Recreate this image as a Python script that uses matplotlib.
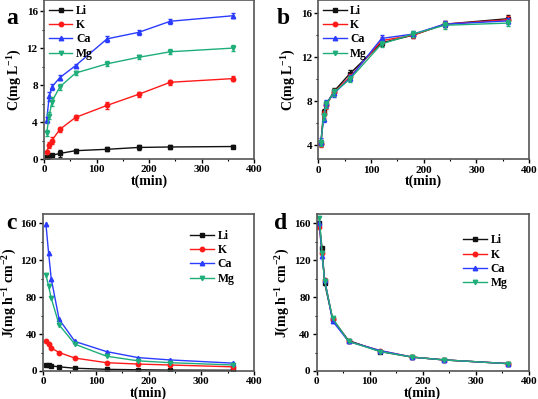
import matplotlib
matplotlib.use("Agg")
import matplotlib.pyplot as plt
from matplotlib.ticker import MultipleLocator

plt.rcParams['font.family'] = 'Liberation Serif'
plt.rcParams['font.weight'] = 'bold'
plt.rcParams['axes.labelweight'] = 'bold'
plt.rcParams['mathtext.fontset'] = 'custom'
plt.rcParams['mathtext.rm'] = 'Liberation Serif:bold'
plt.rcParams['mathtext.bf'] = 'Liberation Serif:bold'
plt.rcParams['mathtext.default'] = 'bf'

# sampling times (min)
t = [5, 10, 15, 30, 60, 120, 180, 240, 360]
ions = ['Li', 'K', 'Ca', 'Mg']
colors = {'Li': '#111111', 'K': '#ff1a1a', 'Ca': '#2a3cff', 'Mg': '#1fae7a'}
markers = {'Li': 's', 'K': 'o', 'Ca': '^', 'Mg': 'v'}

# (a) concentration, single-ion solutions
conc_a = {
    'Li': [0.2, 0.3, 0.4, 0.6, 0.9, 1.05, 1.25, 1.3, 1.35],
    'K':  [0.8, 1.5, 2.0, 3.2, 4.5, 5.8, 7.0, 8.3, 8.7],
    'Ca': [4.2, 6.8, 7.8, 8.8, 10.1, 13.0, 13.7, 14.9, 15.5],
    'Mg': [2.8, 4.7, 6.2, 7.8, 9.3, 10.3, 11.0, 11.6, 12.0],
}
err_a = {
    'Li': [0.05, 0.1, 0.1, 0.35, 0.2, 0.2, 0.3, 0.2, 0.2],
    'K':  [0.1, 0.3, 0.4, 0.25, 0.25, 0.35, 0.25, 0.25, 0.3],
    'Ca': [0.3, 0.5, 0.3, 0.25, 0.2, 0.3, 0.25, 0.25, 0.25],
    'Mg': [0.3, 0.4, 0.5, 0.3, 0.25, 0.25, 0.2, 0.25, 0.35],
}

# (b) concentration, normalised
conc_b = {
    'Li': [4.2, 7.0, 7.7, 8.9, 10.5, 13.3, 14.0, 15.0, 15.5],
    'K':  [4.1, 6.8, 7.6, 8.8, 10.2, 13.5, 14.0, 15.0, 15.4],
    'Ca': [4.3, 6.4, 7.8, 8.7, 10.1, 13.7, 14.1, 15.0, 15.3],
    'Mg': [4.2, 6.6, 7.7, 8.8, 10.0, 13.2, 14.1, 14.9, 15.1],
}
err_b = 0.3

# (c) flux, single-ion solutions
flux_c = {
    'Li': [7, 6, 5.5, 4.5, 3, 1.8, 1.3, 1.0, 0.8],
    'K':  [33, 29, 25, 20, 14, 9, 7.5, 6.5, 4.5],
    'Ca': [159, 128, 100, 56, 32, 21, 14.5, 12, 8.5],
    'Mg': [104, 92, 79, 50, 29, 16, 11, 9, 6.5],
}

# (d) flux, normalised
flux_d = {
    'Li': [160, 133, 95, 56, 33, 21, 15, 12, 8],
    'K':  [156, 128, 98, 56, 32, 22, 15, 12, 8],
    'Ca': [160, 124, 99, 54, 32, 22, 15, 12, 8],
    'Mg': [166, 128, 97, 57, 32, 21, 15, 12, 8],
}


def style_axes(ax, ymin, ymax, ymajor, yminor):
    ax.set_xlim(0, 400)
    ax.set_ylim(ymin, ymax)
    ax.xaxis.set_major_locator(MultipleLocator(100))
    ax.xaxis.set_minor_locator(MultipleLocator(50))
    ax.yaxis.set_major_locator(MultipleLocator(ymajor))
    ax.yaxis.set_minor_locator(MultipleLocator(yminor))
    ax.tick_params(which='major', direction='out', length=3, width=1, labelsize=8, pad=1.5)
    ax.tick_params(which='minor', direction='out', length=1.5, width=0.8)
    for s in ax.spines.values():
        s.set_color('#555555')
        s.set_linewidth(1.2)
    ax.set_xlabel('t(min)', fontsize=10, labelpad=0)
    for lab in ax.get_xticklabels() + ax.get_yticklabels():
        lab.set_fontweight('bold')


fig = plt.figure(figsize=(5.38, 3.99), dpi=100)
ax_a = fig.add_axes([0.0818, 0.6015, 0.391, 0.3985])
ax_b = fig.add_axes([0.5916, 0.6008, 0.392, 0.3992])
ax_c = fig.add_axes([0.0805, 0.0702, 0.3916, 0.3935])
ax_d = fig.add_axes([0.5887, 0.0702, 0.3946, 0.3935])

for ion in ions:
    for ax, vals, err in [(ax_a, conc_a[ion], err_a[ion]), (ax_b, conc_b[ion], err_b)]:
        ax.errorbar(t, vals, yerr=err, color=colors[ion], fmt='none',
                    elinewidth=0.8, capsize=1.5)
        ax.plot(t, vals, color=colors[ion], marker=markers[ion], ms=3.2, lw=1, label=ion)
    ax_c.plot(t, flux_c[ion], color=colors[ion], marker=markers[ion], ms=3.2, lw=1, label=ion)
    ax_d.plot(t, flux_d[ion], color=colors[ion], marker=markers[ion], ms=3.2, lw=1, label=ion)

style_axes(ax_a, 0, 17.2, 4, 2)
style_axes(ax_b, 2.7, 17.2, 4, 2)
style_axes(ax_c, 0, 170, 40, 20)
style_axes(ax_d, 0, 170, 40, 20)

ax_a.set_ylabel('C(mg L$^{-1}$)', fontsize=10, labelpad=2)
ax_b.set_ylabel('C(mg L$^{-1}$)', fontsize=10, labelpad=2)
ax_c.set_ylabel('J(mg h$^{-1}$ cm$^{-2}$)', fontsize=10, labelpad=1)
ax_d.set_ylabel('J(mg h$^{-1}$ cm$^{-2}$)', fontsize=10, labelpad=1)

leg_kw = dict(frameon=False, fontsize=8.5, handlelength=2.0, handletextpad=0.3,
              labelspacing=0.2, borderaxespad=0.2, borderpad=0.2)
ax_a.legend(loc='upper left', **leg_kw)
ax_b.legend(loc='upper left', **leg_kw)
ax_c.legend(loc='upper right', bbox_to_anchor=(0.93, 0.93), **leg_kw)
ax_d.legend(loc='upper right', bbox_to_anchor=(0.92, 0.9), **leg_kw)

for x, y, s in [(0.012, 0.98, 'a'), (0.515, 0.98, 'b'), (0.012, 0.465, 'c'), (0.510, 0.465, 'd')]:
    fig.text(x, y, s, fontsize=17, fontweight='bold', va='top', ha='left')

fig.savefig('out.png', dpi=100)
